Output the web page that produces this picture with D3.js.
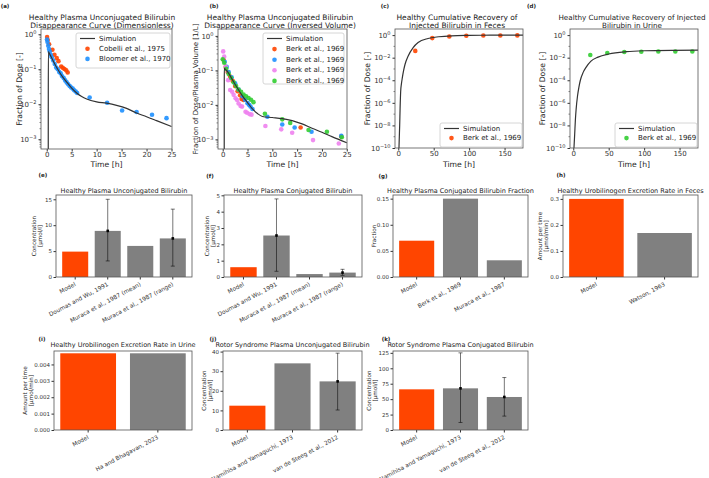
<!DOCTYPE html>
<html>
<head>
<meta charset="utf-8">
<script src="https://cdn.jsdelivr.net/npm/d3@7"></script>
<style>
  body { margin: 0; background: #fff; }
  svg { display: block; font-family: "DejaVu Sans", sans-serif; }
</style>
</head>
<body>
<div id="fig"></div>
<script>
// ---------- (a) plasma UCB disappearance, dimensionless ----------
const simA_t = [0.3, 0.32, 0.6, 1, 1.5, 2, 2.5, 3, 4, 5, 6, 7, 8, 10, 12, 14, 16, 18, 20, 22, 25];
const simA_y = [1e-5, 0.32, 0.27, 0.209, 0.151, 0.112, 0.085, 0.066, 0.043, 0.029, 0.021, 0.0166, 0.0141, 0.0117, 0.0107, 0.0093, 0.0076, 0.0056, 0.0044, 0.0034, 0.0023];
const cobelli_t = [0.07, 0.2, 0.47, 1.14, 1.54, 2.0, 2.35, 2.9, 3.2, 3.55, 3.9, 4.2];
const cobelli_y = [0.83, 0.68, 0.52, 0.36, 0.26, 0.21, 0.17, 0.12, 0.11, 0.102, 0.093, 0.081];
const bloomer_t = [0.05, 0.15, 0.3, 0.45, 0.6, 0.8, 1.0, 1.3, 1.6, 1.9, 2.2, 2.5, 2.8, 3.1, 3.4, 3.7, 4.0, 4.3, 4.6, 4.9, 5.2, 5.5, 5.8, 6.1, 8.6, 12.1, 15.1, 18.0, 21.1, 24.0];
const bloomer_y = [0.71, 0.60, 0.47, 0.38, 0.32, 0.26, 0.22, 0.178, 0.141, 0.112, 0.100, 0.083, 0.076, 0.063, 0.056, 0.048, 0.042, 0.037, 0.033, 0.030, 0.028, 0.025, 0.023, 0.021, 0.0155, 0.011, 0.0066, 0.006, 0.005, 0.004];

// ---------- (b) plasma UCB disappearance, per plasma volume ----------
const simB_t = [0.3, 0.32, 0.6, 1, 2, 3, 4, 5, 6, 7, 8, 10, 12, 14, 16, 18, 20, 22, 25];
const simB_y = [1e-5, 0.115, 0.105, 0.091, 0.052, 0.030, 0.018, 0.0117, 0.0076, 0.0056, 0.0046, 0.0043, 0.0040, 0.0035, 0.0028, 0.0021, 0.0016, 0.0012, 0.0008];
const berk1_t = [0.2, 0.6, 1.0, 1.5, 2.0, 2.5, 3.0, 3.5, 3.8, 4.2, 15.7, 23.9];
const berk1_y = [0.20, 0.126, 0.089, 0.066, 0.050, 0.035, 0.025, 0.019, 0.0148, 0.0138, 0.0022, 0.0012];
const berk2_t = [0.4, 0.8, 1.2, 1.8, 2.5, 3.2, 4.0, 4.5, 5.0, 5.3, 5.6, 6.0, 9.0, 12.0, 14.5, 17.9, 23.9];
const berk2_y = [0.178, 0.126, 0.089, 0.063, 0.042, 0.028, 0.0178, 0.0141, 0.0112, 0.010, 0.0089, 0.0076, 0.0045, 0.0027, 0.0022, 0.00166, 0.00126];
const berk3_t = [0.1, 0.3, 0.6, 1.1, 1.5, 1.9, 2.2, 2.6, 2.9, 3.2, 3.6, 3.9, 4.6, 4.9, 5.4, 5.8, 8.6, 11.8, 14.0, 18.2, 23.4];
const berk3_y = [0.355, 0.25, 0.126, 0.052, 0.027, 0.024, 0.0195, 0.0155, 0.0138, 0.011, 0.0093, 0.0089, 0.0063, 0.0059, 0.0054, 0.0052, 0.00245, 0.00195, 0.00155, 0.00095, 0.00076];
const berk4_t = [0.0, 0.3, 0.7, 1.2, 1.7, 2.2, 2.7, 3.2, 3.7, 4.2, 4.7, 5.2, 5.7, 6.2, 8.5, 12.0, 13.6, 17.3, 21.0, 24.0];
const berk4_y = [0.21, 0.166, 0.112, 0.079, 0.060, 0.045, 0.035, 0.028, 0.024, 0.020, 0.0178, 0.0158, 0.0141, 0.012, 0.0055, 0.0038, 0.0030, 0.00186, 0.00166, 0.00115];

// ---------- (c) cumulative recovery in feces, (d) in urine ----------
const simC_t = [1.0, 1.5, 2.0, 2.6, 3.4, 4.5, 5.7, 7.5, 9.5, 14, 21, 28, 42, 57, 75, 100, 130, 176];
const simC_y = [1e-10, 1e-9, 1e-8, 3.2e-7, 1e-5, 5e-5, 1.6e-4, 7.1e-4, 2.5e-3, 0.0141, 0.079, 0.219, 0.50, 0.71, 0.87, 0.944, 0.977, 0.989];
const feces_t = [24, 48, 72, 96, 120, 144, 168];
const feces_y = [0.040, 0.54, 0.76, 0.88, 0.92, 0.93, 0.94];
const simD_t = [1, 2, 3, 4, 6, 8, 10, 14, 18, 25, 35, 50, 75, 100, 140, 176];
const simD_y = [1e-10, 1.6e-9, 3.2e-8, 2.5e-7, 4e-6, 2.5e-5, 1e-4, 5e-4, 1.4e-3, 5e-3, 0.0112, 0.021, 0.034, 0.041, 0.045, 0.046];
const urine_t = [24, 48, 72, 96, 120, 144, 168];
const urine_y = [0.0174, 0.026, 0.032, 0.034, 0.035, 0.035, 0.035];

// ---------- bar panels ----------
const catsE = ["Model", "Doumas and Wu, 1991", "Muraca et al., 1987 (mean)", "Muraca et al., 1987 (range)"];
const valsE = [4.9, 8.9, 6.0, 7.45];
const errE = [null, [3.1, 15.0], null, [2.1, 13.1]];

const catsF = ["Model", "Doumas and Wu, 1991", "Muraca et al., 1987 (mean)", "Muraca et al., 1987 (range)"];
const valsF = [0.6, 2.54, 0.18, 0.27];
const errF = [null, [0.35, 4.78], null, [0.1, 0.47]];

const catsG = ["Model", "Berk et al., 1969", "Muraca et al., 1987"];
const valsG = [0.0695, 0.150, 0.032];

const catsH = ["Model", "Watson, 1963"];
const valsH = [0.30, 0.169];

const catsI = ["Model", "Ha and Bhagavan, 2023"];
const valsI = [0.00468, 0.00468];

const catsJ = ["Model", "Namihisa and Yamaguchi, 1973", "van de Steeg et al., 2012"];
const valsJ = [12.4, 34.0, 24.8];
const errJ = [null, null, [10.2, 39.2]];

const catsK = ["Model", "Namihisa and Yamaguchi, 1973", "van de Steeg et al., 2012"];
const valsK = [65.9, 67.5, 53.5];
const errK = [null, [12.2, 125.0], [22.5, 85.0]];

const col = { red: "orangered", blue: "dodgerblue", pink: "violet", green: "limegreen", gray: "gray", line: "#333", spine: "#555" };

const W = 709, H = 478;
const svg = d3.select("#fig").append("svg").attr("width", W).attr("height", H);
svg.append("rect").attr("width", W).attr("height", H).attr("fill", "#fff");
const defs = svg.append("defs");

function panelLabel(txt, x, y) {
  svg.append("text").attr("x", x).attr("y", y).attr("text-anchor", "middle")
    .attr("dominant-baseline", "central").attr("font-size", 5.5).attr("font-weight", "bold")
    .attr("fill", "#222").text(txt);
}

function sup10(sel) {
  sel.each(function (d) {
    const e = Math.round(Math.log10(d));
    const t = d3.select(this).text(null);
    t.append("tspan").text("10");
    t.append("tspan").attr("dy", "-0.5em").attr("font-size", "0.72em").text(e < 0 ? "\u2212" + (-e) : e);
  });
}

function timePanel(p) {
  const [x0, y0, x1, y1] = p.box;
  const g = svg.append("g");
  const x = d3.scaleLinear().domain(p.xDom).range([x0, x1]);
  const y = d3.scaleLog().domain(p.yDom).range([y1, y0]);
  const id = "clip" + p.key;
  defs.append("clipPath").attr("id", id).append("rect")
    .attr("x", x0).attr("y", y0).attr("width", x1 - x0).attr("height", y1 - y0);
  const plot = g.append("g").attr("clip-path", `url(#${id})`);

  p.series.forEach(s => {
    plot.append("g").selectAll("circle")
      .data(s.t.map((t, i) => [t, s.y[i]]))
      .enter().append("circle")
      .attr("cx", d => x(d[0])).attr("cy", d => y(d[1]))
      .attr("r", 2.3).attr("fill", s.color).attr("fill-opacity", 0.9);
  });

  plot.append("path")
    .datum(p.simT.map((t, i) => [t, Math.max(p.simY[i], 1e-12)]))
    .attr("d", d3.line().x(d => x(d[0])).y(d => y(d[1])).curve(d3.curveMonotoneX))
    .attr("fill", "none").attr("stroke", col.line).attr("stroke-width", 1.2);

  // axes
  const xa = g.append("g").attr("transform", `translate(0,${y1})`)
    .call(d3.axisBottom(x).tickValues(p.xTicks).tickSize(2.5).tickPadding(0.5));
  xa.select(".domain").remove();
  xa.attr("font-family", "DejaVu Sans").attr("font-size", 7).attr("color", "#333");

  const ya = g.append("g").attr("transform", `translate(${x0},0)`)
    .call(d3.axisLeft(y).tickValues(p.yTicks).tickSize(2.5).tickPadding(2));
  ya.select(".domain").remove();
  ya.attr("font-family", "DejaVu Sans").attr("font-size", 7).attr("color", "#333");
  ya.selectAll("text").call(sup10);

  // minor ticks
  g.append("g").selectAll("line").data(p.minor.filter(v => v > p.yDom[0] && v < p.yDom[1]))
    .enter().append("line")
    .attr("x1", x0 - 1.5).attr("x2", x0).attr("y1", d => y(d)).attr("y2", d => y(d))
    .attr("stroke", "#333").attr("stroke-width", 0.6);

  g.append("rect").attr("x", x0).attr("y", y0).attr("width", x1 - x0).attr("height", y1 - y0)
    .attr("fill", "none").attr("stroke", col.spine).attr("stroke-width", 0.8);

  // titles and labels
  const cx = (x0 + x1) / 2;
  p.title.forEach((t, i) => {
    g.append("text").attr("x", p.titleX || cx).attr("y", 19.5 + i * 8).attr("text-anchor", "middle")
      .attr("font-size", p.titleSize || 7.5).attr("fill", "#222").text(t);
  });
  g.append("text").attr("x", cx).attr("y", 166.5).attr("text-anchor", "middle")
    .attr("font-size", 7.7).attr("fill", "#222").text("Time [h]");
  g.append("text").attr("transform", `translate(${p.ylabX},${(y0 + y1) / 2}) rotate(-90)`)
    .attr("text-anchor", "middle").attr("dominant-baseline", "central")
    .attr("font-size", p.ylabSize || 7.7).attr("fill", "#222").text(p.ylabel);

  // legend
  const L = p.legend;
  const lg = g.append("g");
  lg.append("rect").attr("x", L.x).attr("y", L.y).attr("width", L.w).attr("height", L.h).attr("rx", 2)
    .attr("fill", "#fff").attr("fill-opacity", 0.85).attr("stroke", "#ccc").attr("stroke-width", 0.8);
  const entries = [{ label: "Simulation", line: true }].concat(p.series);
  entries.forEach((e, i) => {
    const yy = L.y + 5.5 + i * L.step;
    if (e.line) {
      lg.append("line").attr("x1", L.x + 4).attr("x2", L.x + 19).attr("y1", yy).attr("y2", yy)
        .attr("stroke", col.line).attr("stroke-width", 1.2);
    } else {
      lg.append("circle").attr("cx", L.x + 11.5).attr("cy", yy).attr("r", 2.3)
        .attr("fill", e.color).attr("fill-opacity", 0.9);
    }
    lg.append("text").attr("x", L.x + 23).attr("y", yy).attr("dominant-baseline", "central")
      .attr("font-size", 7).attr("fill", "#222").text(e.label);
  });
}

function barPanel(p) {
  const [x0, y0, x1, y1] = p.box;
  const n = p.cats.length;
  const g = svg.append("g");
  const x = d3.scaleBand().domain(p.cats).range([x0, x1])
    .paddingInner(0.2).paddingOuter(0.05 * (n - 0.2));
  const y = d3.scaleLinear().domain(p.yDom).range([y1, y0]);

  g.append("g").selectAll("rect").data(p.cats).enter().append("rect")
    .attr("x", d => x(d)).attr("width", x.bandwidth())
    .attr("y", (d, i) => y(p.vals[i])).attr("height", (d, i) => y1 - y(p.vals[i]))
    .attr("fill", (d, i) => i === 0 ? col.red : col.gray);

  if (p.err) {
    const eg = g.append("g");
    p.cats.forEach((c, i) => {
      const e = p.err[i];
      if (!e) return;
      const cx = x(c) + x.bandwidth() / 2;
      eg.append("line").attr("x1", cx).attr("x2", cx).attr("y1", y(e[0])).attr("y2", y(e[1]))
        .attr("stroke", "#000").attr("stroke-opacity", 0.6).attr("stroke-width", 0.9);
      [e[0], e[1]].forEach(v => {
        eg.append("line").attr("x1", cx - 2).attr("x2", cx + 2).attr("y1", y(v)).attr("y2", y(v))
          .attr("stroke", "#000").attr("stroke-opacity", 0.6).attr("stroke-width", 0.9);
      });
      eg.append("rect").attr("x", cx - 1.3).attr("y", y(p.vals[i]) - 1.3).attr("width", 2.6).attr("height", 2.6)
        .attr("fill", "#000");
    });
  }

  const xa = g.append("g").attr("transform", `translate(0,${y1})`)
    .call(d3.axisBottom(x).tickSize(2.5));
  xa.select(".domain").remove();
  xa.attr("font-family", "DejaVu Sans").attr("font-size", 5.8).attr("color", "#333");
  xa.selectAll("text").attr("y", 0).attr("dy", 0)
    .attr("transform", "translate(1,8.5) rotate(-28)").attr("text-anchor", "end");

  const ya = g.append("g").attr("transform", `translate(${x0},0)`)
    .call(d3.axisLeft(y).tickValues(p.yTicks).tickFormat(d3.format(p.fmt)).tickSize(2.5).tickPadding(1.5));
  ya.select(".domain").remove();
  ya.attr("font-family", "DejaVu Sans").attr("font-size", 5.5).attr("color", "#333");

  g.append("rect").attr("x", x0).attr("y", y0).attr("width", x1 - x0).attr("height", y1 - y0)
    .attr("fill", "none").attr("stroke", col.spine).attr("stroke-width", 0.8);

  g.append("text").attr("x", (x0 + x1) / 2).attr("y", y0 - (p.titleGap || 2.5)).attr("text-anchor", "middle")
    .attr("font-size", 6.5).attr("fill", "#222").text(p.title);

  const yl = g.append("text").attr("transform", `translate(${p.ylabX},${(y0 + y1) / 2}) rotate(-90)`)
    .attr("text-anchor", "middle").attr("font-size", 5.7).attr("fill", "#222");
  p.ylabel.forEach((t, i) => {
    yl.append("tspan").attr("x", 0).attr("dy", i === 0 ? (p.ylabel.length > 1 ? "-0.1em" : "0.35em") : "1.05em").text(t);
  });
}

// ---------- row 1 ----------
const logMinorAB = [];
[-4, -3, -2, -1, 0].forEach(e => d3.range(2, 10).forEach(k => logMinorAB.push(k * Math.pow(10, e))));
const logMinorCD = [1e-9, 1e-7, 1e-5, 1e-3, 1e-1];

timePanel({
  key: "a", box: [41, 29, 172, 149], xDom: [-1.15, 25.1], yDom: [Math.pow(10, -3.28), Math.pow(10, 0.15)],
  xTicks: [0, 5, 10, 15, 20, 25], yTicks: [1, 0.1, 0.01, 0.001], minor: logMinorAB,
  title: ["Healthy Plasma Unconjugated Bilirubin", "Disappearance Curve (Dimensionless)"], titleX: 102,
  ylabel: "Fraction of Dose [-]", ylabX: 19,
  simT: simA_t, simY: simA_y,
  series: [
    { t: cobelli_t, y: cobelli_y, color: col.red, label: "Cobelli et al., 1975" },
    { t: bloomer_t, y: bloomer_y, color: col.blue, label: "Bloomer et al., 1970" }
  ],
  legend: { x: 76, y: 33, w: 94, h: 35, step: 10.2 }
});

timePanel({
  key: "b", box: [218, 29, 347, 149], xDom: [-0.95, 25.05], yDom: [Math.pow(10, -3.28), Math.pow(10, 0.2)],
  xTicks: [0, 5, 10, 15, 20, 25], yTicks: [1, 0.1, 0.01, 0.001], minor: logMinorAB,
  title: ["Healthy Plasma Unconjugated Bilirubin", "Disappearance Curve (Inversed Volume)"], titleX: 280,
  ylabel: "Fraction of Dose/Plasma Volume [1/L]", ylabX: 195.7, ylabSize: 7,
  simT: simB_t, simY: simB_y,
  series: [
    { t: berk1_t, y: berk1_y, color: col.red, label: "Berk et al., 1969" },
    { t: berk2_t, y: berk2_y, color: col.blue, label: "Berk et al., 1969" },
    { t: berk3_t, y: berk3_y, color: col.pink, label: "Berk et al., 1969" },
    { t: berk4_t, y: berk4_y, color: col.green, label: "Berk et al., 1969" }
  ],
  legend: { x: 263, y: 33, w: 81, h: 51, step: 10.6 }
});

timePanel({
  key: "c", box: [395, 29, 523, 148], xDom: [-4.6, 176], yDom: [1e-10, Math.pow(10, 0.54)],
  xTicks: [0, 50, 100, 150], yTicks: [1, 1e-2, 1e-4, 1e-6, 1e-8, 1e-10], minor: logMinorCD,
  title: ["Healthy Cumulative Recovery of", "Injected Bilirubin in Feces"], titleX: 457,
  ylabel: "Fraction of Dose [-]", ylabX: 367.3,
  simT: simC_t, simY: simC_y,
  series: [{ t: feces_t, y: feces_y, color: col.red, label: "Berk et al., 1969" }],
  legend: { x: 440, y: 123, w: 82, h: 24, step: 9.6 }
});

timePanel({
  key: "d", box: [570, 29, 698, 148], xDom: [-4.6, 176], yDom: [1e-10, Math.pow(10, 0.54)],
  xTicks: [0, 50, 100, 150], yTicks: [1, 1e-2, 1e-4, 1e-6, 1e-8, 1e-10], minor: logMinorCD,
  title: ["Healthy Cumulative Recovery of Injected", "Bilirubin in Urine"], titleX: 632, titleSize: 7.2,
  ylabel: "Fraction of Dose [-]", ylabX: 542.3,
  simT: simD_t, simY: simD_y,
  series: [{ t: urine_t, y: urine_y, color: col.green, label: "Berk et al., 1969" }],
  legend: { x: 615, y: 123, w: 82, h: 24, step: 9.6 }
});

// ---------- row 2 ----------
barPanel({ box: [56, 195, 192, 277], cats: catsE, vals: valsE, err: errE, yDom: [0, 15.83], yTicks: [0, 5, 10, 15], fmt: "d",
  title: "Healthy Plasma Unconjugated Bilirubin", ylabel: ["Concentration", "[\u00b5mol/l]"], ylabX: 37 });
barPanel({ box: [224, 195, 362, 277], cats: catsF, vals: valsF, err: errF, yDom: [0, 5.02], yTicks: [0, 1, 2, 3, 4, 5], fmt: "d",
  title: "Healthy Plasma Conjugated Bilirubin", ylabel: ["Concentration", "[\u00b5mol/l]"], ylabX: 209.5 });
barPanel({ box: [393, 195, 528, 277], cats: catsG, vals: valsG, yDom: [0, 0.157], yTicks: [0, 0.05, 0.10, 0.15], fmt: ".2f",
  title: "Healthy Plasma Conjugated Bilirubin Fraction", ylabel: ["Fraction"], ylabX: 374 });
barPanel({ box: [563, 195, 698, 277], cats: catsH, vals: valsH, yDom: [0, 0.315], yTicks: [0, 0.1, 0.2, 0.3], fmt: ".1f",
  title: "Healthy Urobilinogen Excretion Rate in Feces", ylabel: ["Amount per time", "[\u00b5mol/min]"], ylabX: 543 });

// ---------- row 3 ----------
barPanel({ box: [54, 351, 192, 430], cats: catsI, vals: valsI, yDom: [0, 0.00482], yTicks: [0, 0.001, 0.002, 0.003, 0.004], fmt: ".3f",
  title: "Healthy Urobilinogen Excretion Rate in Urine", ylabel: ["Amount per time", "[\u00b5mol/min]"], ylabX: 28, titleGap: 4 });
barPanel({ box: [223, 351, 362, 430], cats: catsJ, vals: valsJ, err: errJ, yDom: [0, 40.3], yTicks: [0, 10, 20, 30, 40], fmt: "d",
  title: "Rotor Syndrome Plasma Unconjugated Bilirubin", ylabel: ["Concentration", "[\u00b5mol/l]"], ylabX: 207, titleGap: 4 });
barPanel({ box: [393, 351, 528, 430], cats: catsK, vals: valsK, err: errK, yDom: [0, 128], yTicks: [0, 25, 50, 75, 100, 125], fmt: "d",
  title: "Rotor Syndrome Plasma Conjugated Bilirubin", ylabel: ["Concentration", "[\u00b5mol/l]"], ylabX: 372, titleGap: 4 });

// ---------- panel letters ----------
[["(a)", 5, 5.5], ["(b)", 214, 5.5], ["(c)", 385, 5.5], ["(d)", 531.5, 5.5],
 ["(e)", 43, 175], ["(f)", 210, 176], ["(g)", 383, 176], ["(h)", 561, 175],
 ["(i)", 42, 338.5], ["(j)", 213, 338.5], ["(k)", 386, 338.5]].forEach(d => panelLabel(d[0], d[1], d[2]));
</script>
</body>
</html>
